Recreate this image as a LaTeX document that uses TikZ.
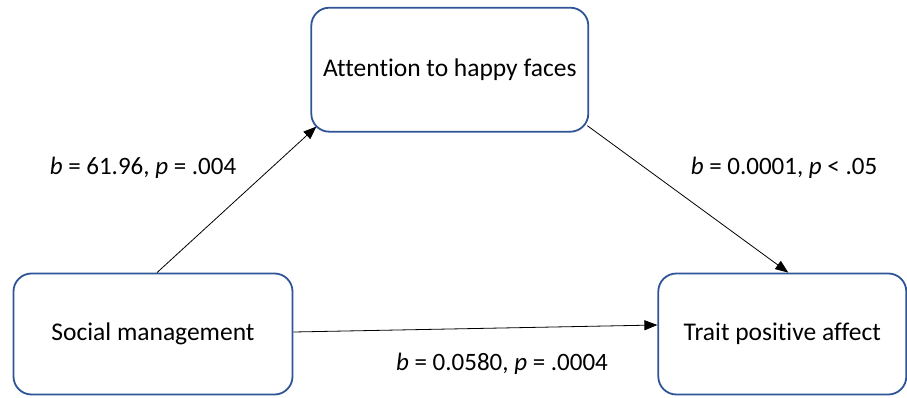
\documentclass[tikz,border=0pt]{standalone}
\usepackage{fontspec}
\setmainfont[Ligatures=NoCommon]{Carlito}
\usepackage{tikz}
\usetikzlibrary{arrows.meta,positioning}
\definecolor{boxblue}{HTML}{2F5597}
\tikzset{
  varbox/.style={
    draw=boxblue,
    rounded corners=18pt,
    fill=white,
    line width=1.8pt,
    align=center,
    minimum width=279pt,
    minimum height=121pt,
    font=\fontsize{25.5}{30}\selectfont
  },
  patharrow/.style={
    -{Triangle[length=13pt,width=10pt]},
    line width=0.8pt,
    draw=black
  },
  coef/.style={
    font=\fontsize{25}{30}\selectfont,
    inner sep=0pt
  }
}

\begin{document}
\begin{tikzpicture}[x=1pt,y=1pt,node distance=140pt and 17pt]
    \useasboundingbox (0,0) rectangle (907,397);
    \node[varbox] (social) at (153,63) {Social management};
    \node[varbox, above right=of social, minimum width=277pt, minimum height=124pt] (attention) {Attention to happy faces};
    \node[varbox, right=364pt of social, minimum width=248pt] (trait) {Trait positive affect};
    \draw[patharrow] ([xshift=4pt]social.north) -- ([shift={(6pt,6pt)}]attention.south west);
    \draw[patharrow] ([shift={(-2pt,7pt)}]attention.south east) -- ([xshift=6pt]trait.north);
    \draw[patharrow] ([yshift=2pt]social.east) -- ([yshift=9pt]trait.west);
    \node[coef] (ab) at (143,229) {\textit{b} = 61.96, \textit{p} = .004};
    \node[coef] (bc) at (784,229) {\textit{b} = 0.0001, \textit{p} < .05};
    \node[coef] (ac) at (502,33) {\textit{b} = 0.0580, \textit{p} = .0004};
  \end{tikzpicture}
\end{document}
